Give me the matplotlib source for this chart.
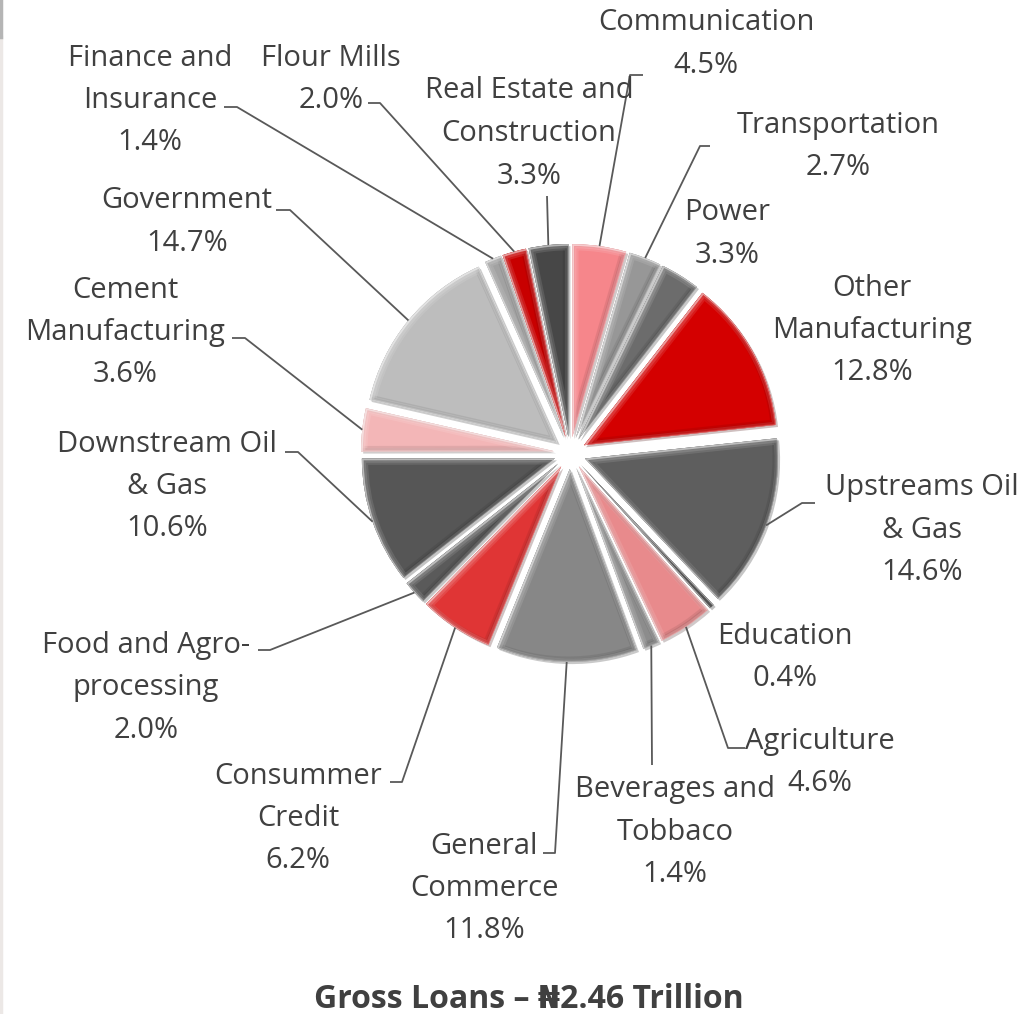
import matplotlib
matplotlib.use("Agg")
import matplotlib.pyplot as plt
import matplotlib.colors as mcolors
from matplotlib import patheffects as pe
from matplotlib.patches import Wedge
import numpy as np

W, H = 1034, 1014

# loan book by sector, clockwise from 12 o'clock
sectors = ["Communication", "Transportation", "Power", "Other\nManufacturing",
           "Upstreams Oil\n& Gas", "Education", "Agriculture",
           "Beverages and\nTobbaco", "General\nCommerce", "Consummer\nCredit",
           "Food and Agro-\nprocessing", "Downstream Oil\n& Gas",
           "Cement\nManufacturing", "Government", "Finance and\nInsurance",
           "Flour Mills", "Real Estate and\nConstruction"]
shares = [4.5, 2.7, 3.3, 12.8, 14.6, 0.4, 4.6, 1.4, 11.8, 6.2, 2.0, 10.6,
          3.6, 14.7, 1.4, 2.0, 3.3]
title = "Gross Loans \u2013 \u20a62.46 Trillion"

colors = ["#f6868b", "#979797", "#6c6c6c", "#d40000", "#5e5e5e", "#262626",
          "#e88a8c", "#8c8c8c", "#878787", "#e03535", "#5a5a5a", "#565656",
          "#f3b6b7", "#bdbdbd", "#a2a2a2", "#c80000", "#474747"]

# first-line centre of each label and its leader (elbow, end) in pixels
label_xy = [(706, 23), (838, 125), (727, 213), (872, 288), (922, 488),
            (785, 636), (820, 741), (675, 790), (484, 846), (298, 776),
            (146, 645), (167, 444), (125, 290), (187, 201), (150, 58),
            (331, 58), (529, 91)]
leaders = [((630, 75), (643, 75)), ((700, 146), (710, 146)), None, None,
           ((802, 503), (815, 503)), None, ((728, 748), (745, 748)),
           ((652, 765), None), ((555, 853), (543, 853)),
           ((402, 782), (390, 782)), ((270, 650), (258, 650)),
           ((298, 452), (285, 452)), ((245, 338), (232, 338)),
           ((290, 210), (276, 210)), ((237, 107), (224, 107)),
           ((380, 103), (368, 103)), ((547, 196), None)]

TEXT = "#404040"
LINE = "#595959"
FONT = ["Open Sans", "DejaVu Sans"]


def shade(c, amt):
    # amt > 0 mixes toward white, amt < 0 toward black
    rgb = np.array(mcolors.to_rgb(c))
    if amt >= 0:
        return tuple(rgb + (1 - rgb) * amt)
    return tuple(rgb * (1 + amt))


def px(p):
    return p[0], H - p[1]


fig = plt.figure(figsize=(W / 100, H / 100), dpi=100)
ax = fig.add_axes([0, 0, 1, 1])

wedges, _ = ax.pie(shares, colors=colors, startangle=90, counterclock=False,
                   radius=193, center=(570, H - 453), explode=[16] * len(shares),
                   frame=False)
ax.set_xlim(0, W)
ax.set_ylim(0, H)
ax.set_aspect("auto")
ax.axis("off")

# bevelled look: soft drop shadow, light rim top-left, dark rim bottom-right
for w, c in zip(wedges, colors):
    w.set_linewidth(0)
    w.set_path_effects([pe.SimplePatchShadow(offset=(1.5, -1.5), alpha=0.25),
                        pe.Normal()])
    rim = Wedge(w.center, w.r, w.theta1, w.theta2, facecolor="none",
                edgecolor="none", zorder=w.get_zorder() + 0.1)
    ax.add_patch(rim)
    rim.set_clip_path(w)
    light = shade(c, 0.35)
    dark = shade(c, -0.3)
    rim.set_path_effects([
        pe.Stroke(offset=(-1, 1), linewidth=6, foreground=dark, alpha=0.25),
        pe.Stroke(offset=(-1, 1), linewidth=3, foreground=dark, alpha=0.35),
        pe.Stroke(offset=(1, -1), linewidth=7, foreground=light, alpha=0.3),
        pe.Stroke(offset=(1, -1), linewidth=4, foreground=light, alpha=0.45),
        pe.Stroke(offset=(0.5, -0.5), linewidth=1.5, foreground="white",
                  alpha=0.5),
    ])

for w, name, share, pos, lead in zip(wedges, sectors, shares, label_xy, leaders):
    lines = name.split("\n") + [f"{share:.1f}%"]
    x0, y0 = pos
    for i, s in enumerate(lines):
        ax.text(x0, H - (y0 + i * 42.5), s, ha="center", va="center",
                fontsize=21, color=TEXT, family=FONT)
    if lead is None:
        continue
    mid = np.deg2rad((w.theta1 + w.theta2) / 2)
    sx = w.center[0] + w.r * np.cos(mid)
    sy = w.center[1] + w.r * np.sin(mid)
    pts = [(sx, sy)] + [px(p) for p in lead if p is not None]
    xs, ys = zip(*pts)
    ax.plot(xs, ys, color=LINE, lw=1.3, solid_capstyle="butt")

ax.text(529, H - 999, title, ha="center", va="center", fontsize=23,
        fontweight="bold", color=TEXT, family=FONT)

# thin chart border on the left
ax.plot([1, 1], [0, H - 37], color="#ece8e6", lw=2.5)
ax.plot([1, 1], [H - 37, H], color="#b5b5b5", lw=2.5)

fig.savefig("out.png", dpi=100)
